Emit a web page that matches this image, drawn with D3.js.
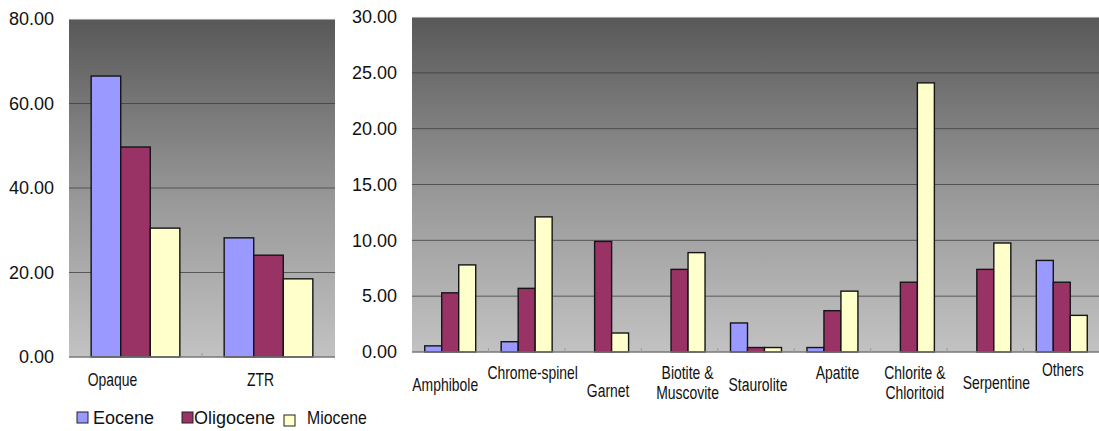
<!DOCTYPE html>
<html>
<head>
<meta charset="utf-8">
<script src="https://cdn.jsdelivr.net/npm/d3@7"></script>
<style>
  html, body { margin: 0; padding: 0; background: #fff; }
  svg { display: block; }
  .tick text { font-family: "Liberation Sans", Arial, sans-serif; }
</style>
</head>
<body>
<svg id="chart" width="1099" height="431"></svg>
<script>
// Heavy mineral assemblages (%) by epoch
const series = ["Eocene", "Oligocene", "Miocene"];
const colors = ["#9999ff", "#993366", "#ffffcc"];

// Major groups (left panel)
const majorCategories = ["Opaque", "ZTR"];
const majorEocene    = [66.5, 28.2];
const majorOligocene = [49.7, 24.1];
const majorMiocene   = [30.5, 18.5];
const majorTicks = [0, 20, 40, 60, 80];

// Other minerals (right panel)
const minorCategories = ["Amphibole", "Chrome-spinel", "Garnet", "Biotite &\nMuscovite",
  "Staurolite", "Apatite", "Chlorite &\nChloritoid", "Serpentine", "Others"];
const minorEocene    = [0.55, 0.92, 0, 0, 2.6, 0.4, 0, 0, 8.2];
const minorOligocene = [5.3, 5.7, 9.9, 7.4, 0.4, 3.7, 6.25, 7.4, 6.25];
const minorMiocene   = [7.8, 12.1, 1.7, 8.9, 0.4, 5.45, 24.1, 9.76, 3.28];
const minorTicks = [0, 5, 10, 15, 20, 25, 30];

const svg = d3.select("#chart");
const FONT = "'Liberation Sans', Arial, sans-serif";

// shared vertical gradient for the plot areas
const defs = svg.append("defs");
const grad = defs.append("linearGradient")
  .attr("id", "plotBg").attr("x1", 0).attr("y1", 0).attr("x2", 0).attr("y2", 1);
grad.append("stop").attr("offset", "0%").attr("stop-color", "#585858");
grad.append("stop").attr("offset", "55%").attr("stop-color", "#9a9a9a");
grad.append("stop").attr("offset", "100%").attr("stop-color", "#c2c2c2");

function panel(opts) {
  const { x0, x1, y0, y1, cats, vals, ticks, labelDy, labelDx } = opts;
  const g = svg.append("g");
  const x = d3.scaleBand().domain(cats).range([x0, x1]);
  const y = d3.scaleLinear().domain([0, d3.max(ticks)]).range([y1, y0]);

  g.append("rect")
    .attr("x", x0).attr("y", y0).attr("width", x1 - x0).attr("height", y1 - y0)
    .attr("fill", "url(#plotBg)");

  // horizontal gridlines
  g.selectAll("line.grid").data(ticks.filter(t => t > 0 && t < d3.max(ticks)))
    .join("line").attr("class", "grid")
    .attr("x1", x0).attr("x2", x1)
    .attr("y1", d => y(d)).attr("y2", d => y(d))
    .attr("stroke", "#3c3c3c").attr("stroke-width", 1).attr("opacity", 0.75);

  // plot top edge
  g.append("line").attr("x1", x0).attr("x2", x1).attr("y1", y0).attr("y2", y0)
    .attr("stroke", "#eeeeee").attr("stroke-width", 1);

  // value axis
  const yAxis = d3.axisLeft(y).tickValues(ticks).tickFormat(d3.format(".2f")).tickSize(0).tickPadding(15);
  const ya = g.append("g").attr("transform", `translate(${x0},0)`).call(yAxis);
  ya.select(".domain").remove();
  ya.selectAll("text").attr("font-size", 18).attr("fill", "#111");

  // bars: gap between clusters is 1.5 bar widths
  const bw = x.bandwidth() / 4.5;
  const offset = (x.bandwidth() - 3 * bw) / 2;
  series.forEach((s, si) => {
    g.selectAll(null).data(cats).join("rect")
      .attr("x", d => x(d) + offset + si * bw)
      .attr("y", (d, i) => y(vals[si][i]))
      .attr("width", bw)
      .attr("height", (d, i) => y(0) - y(vals[si][i]))
      .attr("fill", colors[si])
      .attr("stroke", "#151515").attr("stroke-width", 1.4)
      .attr("display", (d, i) => vals[si][i] > 0 ? null : "none");
  });

  // category axis
  g.append("line").attr("x1", x0).attr("x2", x1).attr("y1", y1).attr("y2", y1)
    .attr("stroke", "#777").attr("stroke-width", 1.5);
  g.selectAll("line.sep").data(cats.slice(1)).join("line").attr("class", "sep")
    .attr("x1", d => x(d)).attr("x2", d => x(d))
    .attr("y1", y1).attr("y2", y1 - 4)
    .attr("stroke", "#999").attr("stroke-width", 1);

  // condensed category labels
  const lab = g.selectAll("text.cat").data(cats).join("text").attr("class", "cat")
    .attr("font-family", FONT)
    .attr("font-size", 17).attr("fill", "#111").attr("text-anchor", "middle")
    .attr("transform", (d, i) => `translate(${x(d) + x.bandwidth() / 2 + labelDx[i]},${y1 + labelDy[i]}) scale(0.82,1.05)`);
  lab.each(function(d) {
    const lines = d.split("\n");
    d3.select(this).selectAll("tspan").data(lines).join("tspan")
      .attr("x", 0).attr("dy", (l, k) => k === 0 ? 0 : 19).text(l => l);
  });
}

panel({
  x0: 69, x1: 335, y0: 19, y1: 357,
  cats: majorCategories,
  vals: [majorEocene, majorOligocene, majorMiocene],
  ticks: majorTicks,
  labelDy: [29, 29], labelDx: [-23, -8]
});

panel({
  x0: 412, x1: 1100, y0: 17, y1: 352,
  cats: minorCategories,
  vals: [minorEocene, minorOligocene, minorMiocene],
  ticks: minorTicks,
  labelDy: [39, 27, 45, 27, 39, 27, 27, 37, 24], labelDx: [-5, 6, 5, 8, 2, 5, 6, 11, 1]
});

// legend
const legend = svg.append("g").attr("transform", "translate(77,418)");
const legX = [0, 105, 207];
const legTextX = [16, 12, 23];
const legScale = [1, 1, 0.88];
series.forEach((s, i) => {
  const it = legend.append("g").attr("transform", `translate(${legX[i]},0)`);
  it.append("rect").attr("x", 0).attr("y", -6 + (i === 2 ? 3 : 0)).attr("width", 11).attr("height", 11)
    .attr("fill", colors[i]).attr("stroke", "#222").attr("stroke-width", 1);
  it.append("text")
    .attr("transform", `translate(${legTextX[i]},6) scale(${legScale[i]},1)`)
    .attr("font-family", FONT).attr("font-size", 18).attr("fill", "#111")
    .text(s);
});
</script>
</body>
</html>
